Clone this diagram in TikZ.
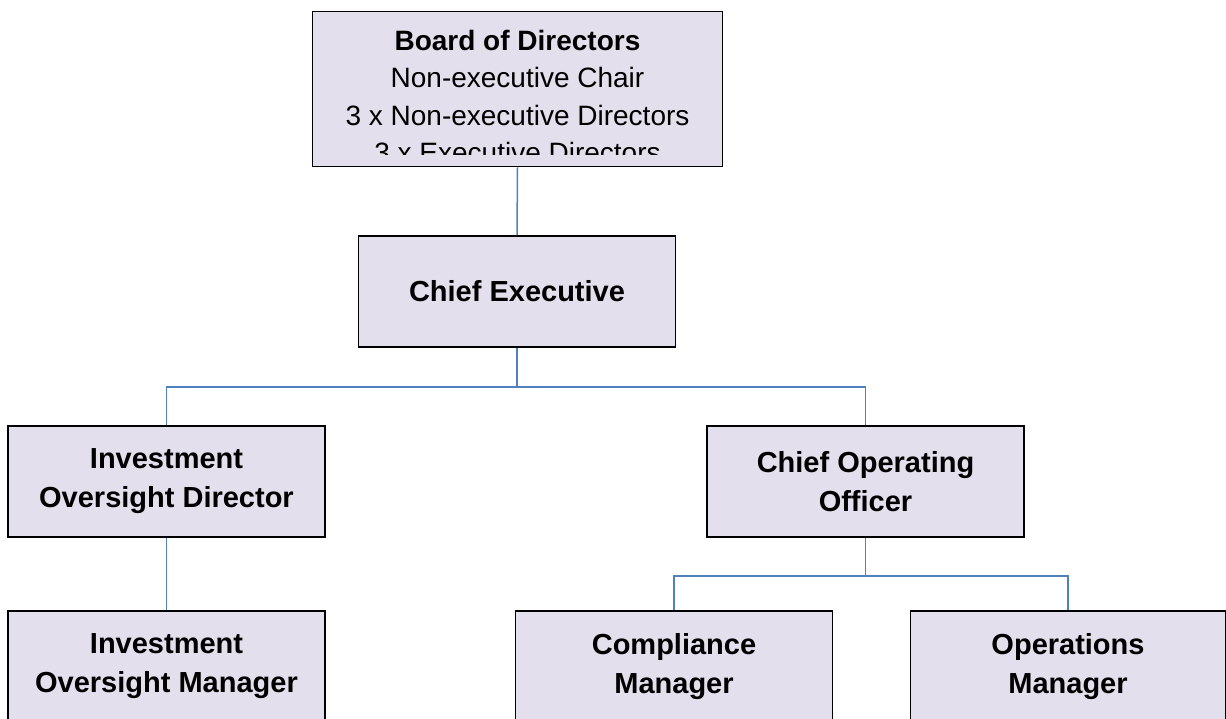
\documentclass[tikz,border=0pt]{standalone}
\usepackage{fontspec}
\setmainfont{Liberation Sans}
\definecolor{boxfill}{HTML}{E4DFEC}
\definecolor{linkblue}{HTML}{4F81BD}
\begin{document}
\begin{tikzpicture}[x=1pt,y=-1pt,
  orgbox/.style={draw=black,line width=1.8pt,fill=boxfill,minimum width=317pt,minimum height=111pt,inner sep=0pt,align=center,font=\fontsize{29}{39}\selectfont\bfseries},
  link/.style={draw=linkblue,line width=1.5pt}]
\clip (0,0) rectangle (1226,719);
% boxes
\node[orgbox,minimum width=410pt,minimum height=155pt] (board) at (517.5,89) {};
\begin{scope}
  \clip (313,12) rectangle (722,155);
  \node[anchor=base,align=center,inner sep=0pt,font=\fontsize{28}{37.6}\selectfont] (boardtext) at (517.5,163) {\textbf{Board of Directors}\\Non-executive Chair\\3 x Non-executive Directors\\3 x Executive Directors};
\end{scope}
\node[orgbox] (ce) at (517,291.5) {Chief Executive};
\node[orgbox] (iod) at (166.5,481.5) {Investment\\Oversight Director};
\node[orgbox] (coo) at (865.5,481.5) {Chief Operating\\Officer};
\node[orgbox] (iom) at (166.5,666.5) {Investment\\Oversight Manager};
\node[orgbox] (cm) at (674,666.5) {Compliance\\Manager};
\node[orgbox,minimum width=315pt] (om) at (1068,666.5) {Operations\\Manager};
% connectors
\draw[link] (board.south) -- (ce.north);
\draw[link] (ce.south) -- ++(0,39) coordinate (j1);
\draw[link] (iod.north) |- (j1) -| (coo.north);
\draw[link] (iod.south) -- (iom.north);
\draw[link] (coo.south) -- ++(0,38) coordinate (j2);
\draw[link] (cm.north) |- (j2) -| (om.north);
\end{tikzpicture}
\end{document}
